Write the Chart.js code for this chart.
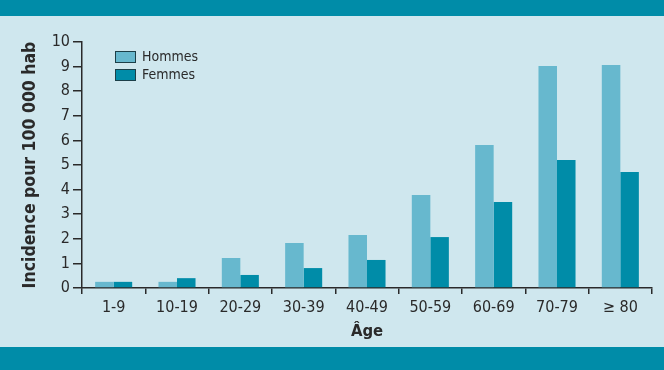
<!DOCTYPE html>
<html>
<head>
<meta charset="utf-8">
<script src="https://cdn.jsdelivr.net/npm/chart.js@4"></script>
<style>
html,body{margin:0;padding:0;background:#cfe7ee;}
#wrap{position:relative;width:664px;height:370px;}
</style>
</head>
<body>
<div id="wrap"><canvas id="c" width="664" height="370"></canvas></div>
<script>
const categories = ['1-9','10-19','20-29','30-39','40-49','50-59','60-69','70-79','\u2265 80'];
const hommes = [0.25,0.25,1.22,1.83,2.15,3.78,5.81,9.02,9.06];
const femmes = [0.25,0.4,0.53,0.81,1.14,2.07,3.5,5.2,4.72];
const yTicks = [0,1,2,3,4,5,6,7,8,9,10];

const BG = '#cfe7ee';
const TEAL = '#008ca8';
const LIGHT = '#67b8ce';
const INK = '#2a2a2a';
const FONT = "'Liberation Sans Narrow','DejaVu Sans Condensed',sans-serif";

const bgPlugin = {
  id:'bg',
  beforeDraw(chart){
    const ctx = chart.ctx;
    ctx.save();
    ctx.fillStyle = BG;
    ctx.fillRect(0,0,chart.width,chart.height);
    ctx.fillStyle = TEAL;
    ctx.fillRect(0,0,chart.width,16);
    ctx.fillRect(0,347,chart.width,chart.height-347);
    ctx.restore();
  }
};

const legendPlugin = {
  id:'innerLegend',
  afterDraw(chart){
    const ctx = chart.ctx;
    ctx.save();
    const x0 = chart.chartArea.left + 33;
    let y0 = chart.chartArea.top + 9;
    chart.data.datasets.forEach((ds,i)=>{
      const y = y0 + i*18;
      ctx.fillStyle = ds.backgroundColor;
      ctx.fillRect(x0,y,21,12);
      ctx.strokeStyle = '#1c3f48';
      ctx.lineWidth = 1;
      ctx.strokeRect(x0+0.5,y+0.5,20,11);
      ctx.fillStyle = INK;
      ctx.font = "14px " + FONT;
      ctx.textBaseline = 'middle';
      ctx.fillText(ds.label, x0+27, y+6.5);
    });
    ctx.restore();
  }
};

new Chart(document.getElementById('c'), {
  type:'bar',
  data:{
    labels:categories,
    datasets:[
      {label:'Hommes', data:hommes, backgroundColor:LIGHT, categoryPercentage:0.585, barPercentage:1.0, borderWidth:0},
      {label:'Femmes', data:femmes, backgroundColor:TEAL, categoryPercentage:0.585, barPercentage:1.0, borderWidth:0}
    ]
  },
  options:{
    responsive:false,
    animation:false,
    layout:{padding:{top:42,right:12,bottom:28,left:0}},
    plugins:{legend:{display:false},tooltip:{enabled:false}},
    scales:{
      x:{
        afterFit(axis){axis.height = 54;},
        grid:{display:true,drawOnChartArea:false,drawTicks:true,tickLength:6,color:INK,lineWidth:1.5,offset:true},
        border:{display:true,color:INK,width:1.5},
        ticks:{color:INK,font:{family:FONT,size:16},padding:4,maxRotation:0},
        title:{display:true,text:'Âge',color:INK,font:{family:FONT,size:16.5,weight:'bold'},padding:{top:0,bottom:0}}
      },
      y:{
        min:0,max:10,
        afterBuildTicks(axis){axis.ticks = yTicks.map(v=>({value:v}));},
        afterFit(axis){axis.width = 82;},
        grid:{display:true,drawOnChartArea:false,drawTicks:true,tickLength:9,color:INK,lineWidth:1.5},
        border:{display:true,color:INK,width:1.5},
        ticks:{color:INK,font:{family:FONT,size:16},padding:3},
        title:{display:true,text:'Incidence pour 100 000 hab',color:INK,font:{family:FONT,size:17.5,weight:'bold'},padding:{top:20,bottom:0}}
      }
    }
  },
  plugins:[bgPlugin,legendPlugin]
});
</script>
</body>
</html>
